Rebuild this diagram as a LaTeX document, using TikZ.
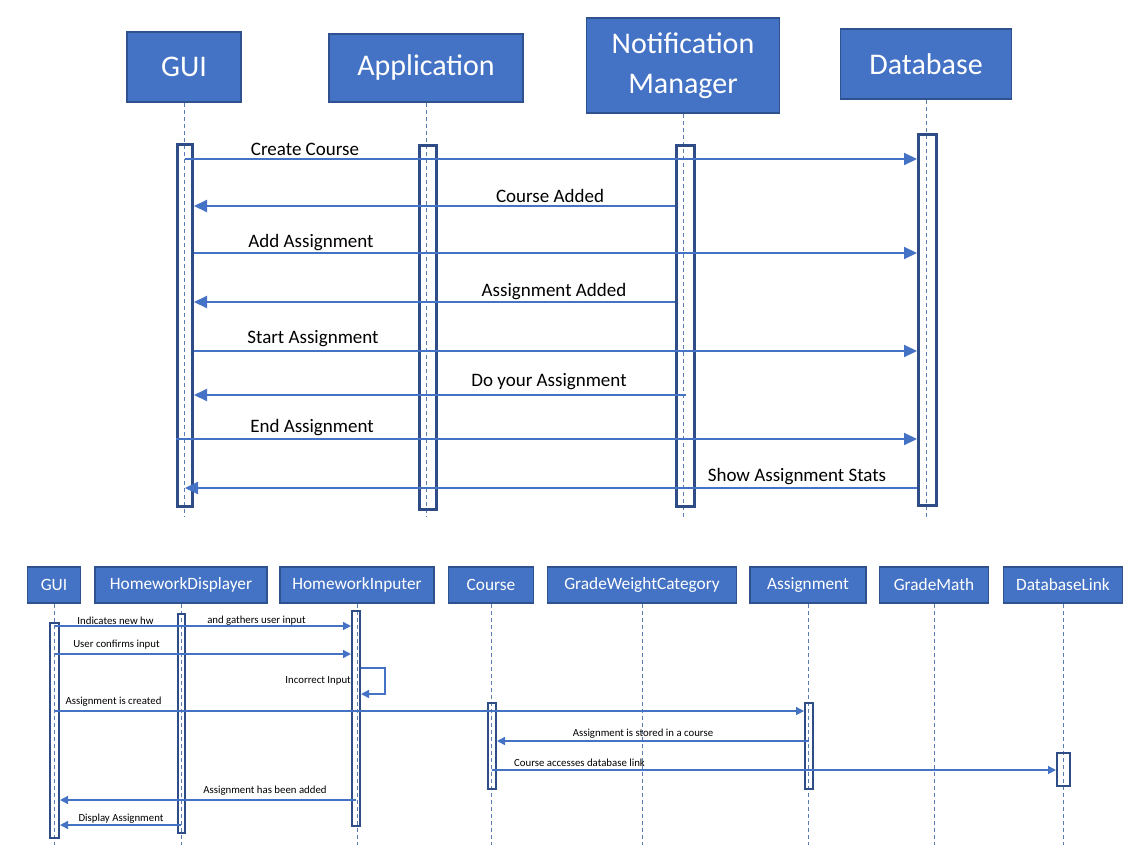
\documentclass[tikz,border=0pt]{standalone}
\usepackage{fontspec}
\setmainfont{Carlito}
\usetikzlibrary{arrows.meta}

\definecolor{headblue}{HTML}{4472C4}
\definecolor{headedge}{HTML}{2F528F}
\definecolor{bardark}{HTML}{2E4D86}
\definecolor{lifeblue}{HTML}{5B7BB3}

\tikzset{
	head/.style={draw=headedge, line width=1.5pt, fill=headblue, text=white, inner sep=0pt, align=center},
	bighead/.style={head, font=\fontsize{30}{40}\selectfont},
	smallhead/.style={head, font=\fontsize{17.3}{18}\selectfont, minimum height=36pt},
	life/.style={draw=lifeblue, dash pattern=on 4pt off 3pt, line width=0.9pt},
	bigbar/.style={draw=bardark, line width=3pt, inner sep=0pt, anchor=north},
	smallbar/.style={draw=bardark, line width=2pt, inner sep=0pt, anchor=north},
	bigmsg/.style={draw=headblue, line width=2pt, -{Triangle[length=13pt,width=12pt]}},
	smallmsg/.style={draw=headblue, line width=1.5pt, -{Triangle[length=8pt,width=8pt]}},
	biglbl/.style={font=\fontsize{19}{21}\selectfont, inner sep=0pt},
	smalllbl/.style={font=\fontsize{10.8}{12}\selectfont, inner sep=0pt}
}

\begin{document}
\begin{tikzpicture}[x=1pt,y=-1pt]
	\useasboundingbox (0,0) rectangle (1142,862);
	
	% upper diagram
	\node[bighead, minimum width=114pt, minimum height=70pt] (gui) at (184,67) {GUI};
	\node[bighead, minimum width=194pt, minimum height=68pt] (app) at (426,68) {Application};
	\node[bighead, minimum width=193pt, minimum height=95pt] (notif) at (683,65.5) {Notification\\Manager};
	\node[bighead, minimum width=171pt, minimum height=70pt] (db) at (926,64) {Database};
	
	\foreach \n in {gui,app,notif,db}
		\draw[life] (\n.south) -- (\n.south |- 0,517);
	
	\node[bigbar, minimum width=15pt, minimum height=362pt] (guibar) at (185,143) {};
	\node[bigbar, minimum width=17pt, minimum height=364pt] (appbar) at (428,144) {};
	\node[bigbar, minimum width=18pt, minimum height=361pt] (notifbar) at (685.5,144) {};
	\node[bigbar, minimum width=18pt, minimum height=371pt] (dbbar) at (927.5,133) {};
	
	\draw[bigmsg] (guibar |- 0,159) -- (dbbar.west |- 0,159);
	\node[biglbl] (createcourse) at (305,149) {Create Course};
	\draw[bigmsg] (notifbar.west |- 0,206) -- (guibar.east |- 0,206);
	\node[biglbl] (courseadded) at (550,196) {Course Added};
	\draw[bigmsg] (guibar.east |- 0,253) -- (dbbar.west |- 0,253);
	\node[biglbl] (addassign) at (311,243) {Add Assignment};
	\draw[bigmsg] (notifbar.west |- 0,302) -- (guibar.east |- 0,302);
	\node[biglbl] (assignadded) at (554,292) {Assignment Added};
	\draw[bigmsg] (guibar.east |- 0,351) -- (dbbar.west |- 0,351);
	\node[biglbl] (startassign) at (313,339) {Start Assignment};
	\draw[bigmsg] (notifbar |- 0,395) -- (guibar.east |- 0,395);
	\node[biglbl] (doassign) at (549,382) {Do your Assignment};
	\draw[bigmsg] (guibar.west |- 0,439) -- (dbbar.west |- 0,439);
	\node[biglbl] (endassign) at (312,428) {End Assignment};
	\draw[bigmsg] (dbbar.west |- 0,488) -- (guibar |- 0,488);
	\node[biglbl] (showstats) at (797,477) {Show Assignment Stats};
	
	% lower diagram
	\node[smallhead, minimum width=53pt] (bgui) at (54,585) {GUI};
	\node[smallhead, minimum width=172pt] (hd) at (181,585) {HomeworkDisplayer};
	\node[smallhead, minimum width=154pt] (hi) at (357,585) {HomeworkInputer};
	\node[smallhead, minimum width=85pt] (course) at (491,585) {Course};
	\node[smallhead, minimum width=189pt] (gwc) at (642,585) {GradeWeightCategory};
	\node[smallhead, minimum width=116pt] (assign) at (808,585) {Assignment};
	\node[smallhead, minimum width=109pt] (gmath) at (934,585) {GradeMath};
	\node[smallhead, minimum width=119pt] (dblink) at (1063,585) {DatabaseLink};
	
	\foreach \n in {bgui,hd,hi,course,gwc,assign,gmath,dblink}
		\draw[life] (\n.south) -- (\n.south |- 0,845);
	
	\node[smallbar, minimum width=9pt, minimum height=215pt] (bguibar) at (54.5,622) {};
	\node[smallbar, minimum width=7pt, minimum height=219pt] (hdbar) at (181,613) {};
	\node[smallbar, minimum width=8pt, minimum height=215pt] (hibar) at (356,610) {};
	\node[smallbar, minimum width=8pt, minimum height=86pt] (coursebar) at (492,702) {};
	\node[smallbar, minimum width=8pt, minimum height=86pt] (assignbar) at (809,702) {};
	\node[smallbar, minimum width=13pt, minimum height=33pt] (dblinkbar) at (1063.5,752) {};
	
	\draw[smallmsg] (bguibar |- 0,626) -- (hibar.west |- 0,626);
	\node[smalllbl] (newhw) at (115.5,621) {Indicates new hw};
	\node[smalllbl] (gathers) at (256.5,621) {and gathers user input};
	\draw[smallmsg] (bguibar |- 0,654) -- (hibar.west |- 0,654);
	\node[smalllbl] (confirms) at (116.5,645) {User confirms input};
	\draw[smallmsg] (hibar.east |- 0,668) -- ++(24,0) |- (hibar.east |- 0,694);
	\node[smalllbl, anchor=east] (incorrect) at (351,681) {Incorrect Input};
	\draw[smallmsg] (bguibar |- 0,711) -- (assignbar.west |- 0,711);
	\node[smalllbl] (created) at (113.5,702) {Assignment is created};
	\draw[smallmsg] (assignbar |- 0,741) -- (coursebar.east |- 0,741);
	\node[smalllbl] (stored) at (643,734) {Assignment is stored in a course};
	\draw[smallmsg] (coursebar |- 0,770) -- (dblinkbar.west |- 0,770);
	\node[smalllbl] (accesses) at (579.5,763) {Course accesses database link};
	\draw[smallmsg] (hibar |- 0,800) -- (bguibar.east |- 0,800);
	\node[smalllbl] (beenadded) at (265,791) {Assignment has been added};
	\draw[smallmsg] (hdbar |- 0,825) -- (bguibar.east |- 0,825);
	\node[smalllbl] (display) at (121,819) {Display Assignment};
	
\end{tikzpicture}
\end{document}
